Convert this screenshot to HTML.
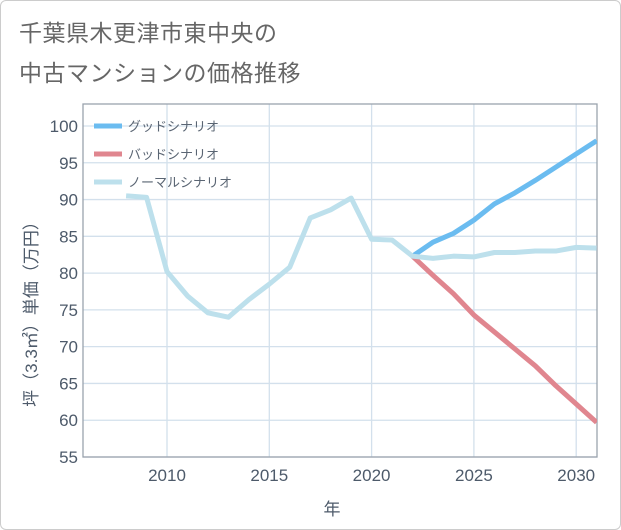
<!DOCTYPE html>
<html><head><meta charset="utf-8"><style>
html,body{margin:0;padding:0;background:#fff;}
#wrap{position:relative;width:619px;height:528px;border:1px solid #ccc;border-radius:6px;background:#fff;overflow:hidden;}
#title{position:absolute;left:18px;top:12px;font:23px "Liberation Sans","Noto Sans CJK JP",sans-serif;color:#666;line-height:40px;letter-spacing:0.5px;}
svg text{font-family:"Liberation Sans","Noto Sans CJK JP",sans-serif;}
</style></head><body>
<div id="wrap">
<div id="title">千葉県木更津市東中央の<br>中古マンションの価格推移</div>
<svg id="chart" width="621" height="530" style="position:absolute;left:-1px;top:-1px"></svg>
</div>
<script>
const years=[2008,2009,2010,2011,2012,2013,2014,2015,2016,2017,2018,2019,2020,2021,2022,2023,2024,2025,2026,2027,2028,2029,2030,2031];
const normal=[90.5,90.3,80.2,76.9,74.6,74.0,76.4,78.5,80.8,87.5,88.6,90.2,84.6,84.5,82.3,82.0,82.3,82.2,82.8,82.8,83.0,83.0,83.5,83.4];
const goodYears=[2022,2023,2024,2025,2026,2027,2028,2029,2030,2031];
const good=[82.3,84.2,85.4,87.2,89.4,90.9,92.6,94.4,96.2,98.0];
const bad=[82.3,79.7,77.2,74.3,72.0,69.7,67.4,64.7,62.2,59.7];
const yTicks=[55,60,65,70,75,80,85,90,95,100];
const xTicks=[2010,2015,2020,2025,2030];
const L=83,R=597,T=104,B=457;
const x=y=>167+(y-2010)*20.46;
const yv=v=>457-(v-55)*7.356;
const svg=document.getElementById('chart');
const NS='http://www.w3.org/2000/svg';
function mk(t,a){const e=document.createElementNS(NS,t);for(const k in a)e.setAttribute(k,a[k]);svg.appendChild(e);return e;}
yTicks.forEach(v=>{
 const g=mk('line',{x1:L,x2:R,y1:yv(v),y2:yv(v),stroke:'#d3e0ec','stroke-width':1.3});
 
 
 const t=mk('text',{x:L-5,y:yv(v)+6,'text-anchor':'end','font-size':17,fill:'#4d5a6a'});
 t.textContent=v;
 
 
});
xTicks.forEach(v=>{
 const g=mk('line',{x1:x(v),x2:x(v),y1:T,y2:B,stroke:'#d3e0ec','stroke-width':1.3});
 
 
 const t=mk('text',{x:x(v),y:481,'text-anchor':'middle','font-size':17,fill:'#4d5a6a'});
 t.textContent=v;
 
 
});
const fr=mk('rect',{x:L,y:T,width:R-L,height:B-T,fill:'none',stroke:'#9aa3ad','stroke-width':1.3});


const cp=mk('clipPath',{id:'cp'});
const cr=document.createElementNS(NS,'rect');cr.setAttribute('x',L);cr.setAttribute('y',T);cr.setAttribute('width',R-L);cr.setAttribute('height',B-T);cp.appendChild(cr);
function line(xs,vs,color,name){
 const p=mk('polyline',{points:xs.map((yr,i)=>x(yr)+','+yv(vs[i])).join(' '),fill:'none',stroke:color,'stroke-width':5,'stroke-linejoin':'round','clip-path':'url(#cp)'});
 
 
}
line(goodYears,good,'#6bbcf0','good-scenario-line');
line(goodYears,bad,'#e0868f','bad-scenario-line');
line(years,normal,'#bde0ec','normal-scenario-line');
const leg=[['グッドシナリオ','#6bbcf0'],['バッドシナリオ','#e0868f'],['ノーマルシナリオ','#bde0ec']];
leg.forEach((l,i)=>{
 const yy=126+i*28;
 const s=mk('line',{x1:94,x2:122,y1:yy,y2:yy,stroke:l[1],'stroke-width':5});
 
 
 const t=mk('text',{x:128,y:yy+5,'font-size':13,fill:'#5a6573'});
 t.textContent=l[0];
 
 
});
const yt=mk('text',{x:0,y:0,'font-size':17,fill:'#4d5a6a','text-anchor':'middle',transform:'translate(37,310) rotate(-90)'});
yt.textContent='坪（3.3㎡）単価（万円）';


const xt=mk('text',{x:332,y:515,'font-size':17,fill:'#4d5a6a','text-anchor':'middle'});
xt.textContent='年';


</script>
</body></html>
